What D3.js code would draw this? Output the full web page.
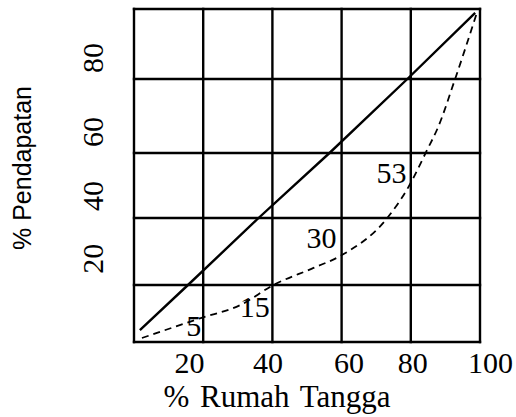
<!DOCTYPE html>
<html lang="id">
<head>
    <meta charset="UTF-8">
    <title>Kurva Lorenz</title>
    <script src="https://cdn.jsdelivr.net/npm/d3@7"></script>
    <style>
        body { margin: 0; background: #fff; }
        svg text { fill: #000; }
        .serif { font-family: "Liberation Serif", "Times New Roman", serif; font-size: 30px; }
    </style>
</head>
<body>
<script>

    // grid lines (percent values)
    var gridX = [0, 20, 40, 60, 80, 100];
    var gridY = [0, 20, 40, 60, 80, 100];

    // line of equality
    var eqX = [1.7, 15.6, 36.0, 56.5, 79.0, 98.6];
    var eqY = [4.2, 20, 40, 60, 80, 98.9];

    // lorenz curve (dashed)
    var lorX = [2.3, 19.3, 30.8, 40.3, 51.9, 60.2, 73.2, 79.3, 84.7, 87.9, 92.8, 99.1];
    var lorY = [1.4, 8.4, 13.0, 20, 25.1, 29.0, 40, 49.5, 60.8, 67.0, 80, 98.9];

    // annotations on the curve
    var noteText = ["5", "15", "30", "53"];
    var noteX = [17.3, 34.9, 54.2, 74.4];
    var noteY = [2.1, 8.8, 31.0, 50.8];

    // tick labels and where they sit
    var xLabels = ["20", "40", "60", "80", "100"];
    var xLabelPos = [15.9, 38.6, 62.0, 80.4, 102.9];
    var yLabels = ["20", "40", "60", "80"];
    var yLabelPos = [27.8, 46.8, 65.7, 86];

    var width = 516, height = 417;

    var x = d3.scaleLinear().domain([0, 100]).range([134, 480]);
    // the grid in the picture is not evenly spaced vertically
    var y = d3.scaleLinear().domain(gridY).range([342, 285, 218, 153, 79, 9]);

    var svg = d3.select("body").append("svg")
        .attr("width", width)
        .attr("height", height);

    // grid
    svg.append("g").selectAll("line")
        .data(gridX).enter().append("line")
        .attr("x1", function(d) { return x(d); })
        .attr("x2", function(d) { return x(d); })
        .attr("y1", y(0) + 1.2).attr("y2", y(100) - 1.2)
        .attr("stroke", "#000").attr("stroke-width", 2.4);
    svg.append("g").selectAll("line")
        .data(gridY).enter().append("line")
        .attr("y1", function(d) { return y(d); })
        .attr("y2", function(d) { return y(d); })
        .attr("x1", x(0) - 1.2).attr("x2", x(100) + 1.2)
        .attr("stroke", "#000").attr("stroke-width", 2.4);

    var line = d3.line()
        .x(function(d) { return x(d[0]); })
        .y(function(d) { return y(d[1]); });

    svg.append("path")
        .datum(d3.zip(eqX, eqY))
        .attr("d", line)
        .attr("fill", "none")
        .attr("stroke", "#000")
        .attr("stroke-width", 2.4);

    svg.append("path")
        .datum(d3.zip(lorX, lorY))
        .attr("d", line.curve(d3.curveMonotoneX))
        .attr("fill", "none")
        .attr("stroke", "#000")
        .attr("stroke-width", 1.8)
        .attr("stroke-dasharray", "7,5");

    svg.append("g").selectAll("text")
        .data(noteText).enter().append("text")
        .attr("class", "serif")
        .attr("x", function(d, i) { return x(noteX[i]); })
        .attr("y", function(d, i) { return y(noteY[i]); })
        .attr("text-anchor", "middle")
        .text(function(d) { return d; });

    // x axis labels
    var xAxis = svg.append("g")
        .attr("transform", "translate(0,350)")
        .call(d3.axisBottom(x)
            .tickValues(xLabelPos)
            .tickSize(0)
            .tickPadding(0)
            .tickFormat(function(d, i) { return xLabels[i]; }));
    xAxis.attr("font-family", null).attr("font-size", null);
    xAxis.select(".domain").remove();
    xAxis.selectAll("text")
        .attr("class", "serif")
        .attr("dy", "0.76em");

    // y axis labels (rotated)
    var yAxis = svg.append("g")
        .attr("transform", "translate(103,0)")
        .call(d3.axisLeft(y)
            .tickValues(yLabelPos)
            .tickSize(0)
            .tickFormat(function(d, i) { return yLabels[i]; }));
    yAxis.attr("font-family", null).attr("font-size", null);
    yAxis.select(".domain").remove();
    yAxis.selectAll(".tick").attr("transform", null);
    yAxis.selectAll("text")
        .attr("class", "serif")
        .attr("x", 0).attr("y", 0).attr("dy", 0)
        .attr("text-anchor", "middle")
        .attr("transform", function(d) { return "translate(0," + y(d) + ") rotate(-90)"; });

    svg.append("text")
        .attr("class", "serif")
        .attr("x", 277).attr("y", 407)
        .attr("text-anchor", "middle")
        .style("font-size", "31px")
        .style("word-spacing", "3px")
        .text("% Rumah Tangga");

    svg.append("text")
        .attr("transform", "translate(31,168) rotate(-90)")
        .attr("text-anchor", "middle")
        .style("font-family", "'Liberation Sans', Arial, sans-serif")
        .style("font-size", "25px")
        .text("% Pendapatan");

</script>
</body>
</html>
